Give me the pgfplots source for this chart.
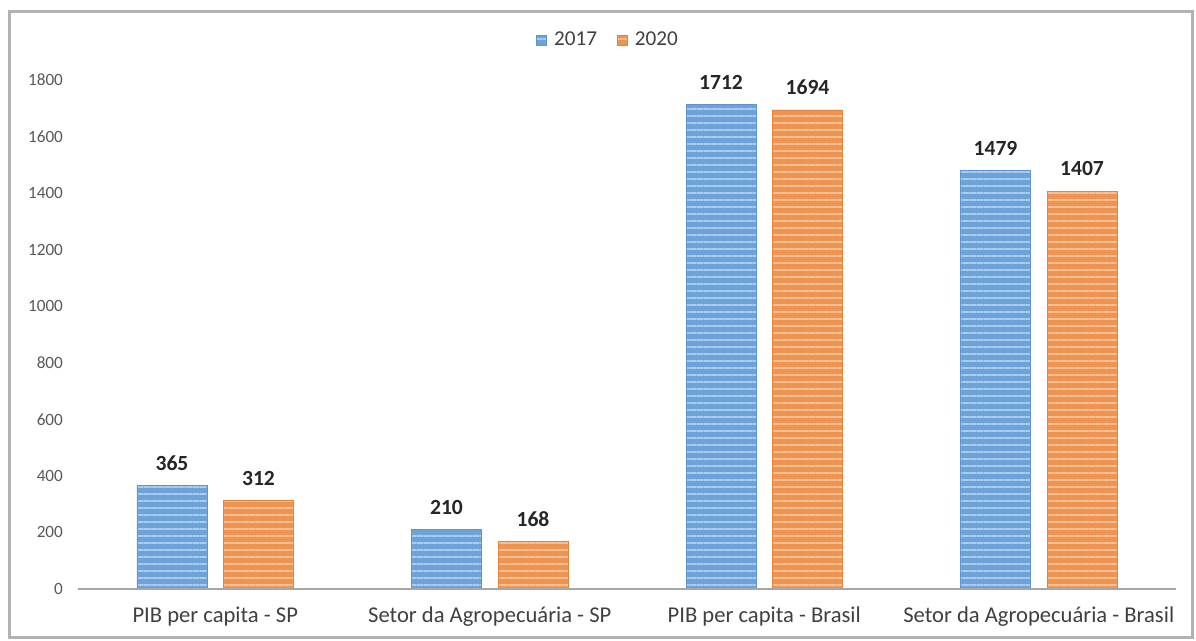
\documentclass[border=0pt]{standalone}
\usepackage{pgfplots}
\pgfplotsset{compat=1.18}
\usepackage{fontspec}
\setmainfont{Carlito}
\usetikzlibrary{patterns.meta}
\definecolor{bbase}{HTML}{6EA3D9}
\definecolor{blight}{HTML}{A8CBEE}
\definecolor{bedge}{HTML}{5F95CE}
\definecolor{obase}{HTML}{EE9450}
\definecolor{olight}{HTML}{F6C096}
\definecolor{oedge}{HTML}{E3843E}
\definecolor{txt}{HTML}{404040}
\definecolor{tick}{HTML}{595959}
\begin{document}
\begin{tikzpicture}
\useasboundingbox (-39pt,-26pt) rectangle (559pt,294.5pt);
\fill[white] (-39pt,-26pt) rectangle (559pt,294.5pt);
\begin{axis}[
  at={(0,0)}, anchor=south west,
  width=549pt, height=254.5pt, scale only axis,
  ybar=8.25pt, bar width=35pt,
  xmin=-0.5, xmax=3.5, ymin=0, ymax=1800,
  xtick={0,1,2,3},
  xticklabels={PIB per capita - SP, Setor da Agropecuária - SP, PIB per capita - Brasil, Setor da Agropecuária - Brasil},
  ytick={0,200,...,1800},
  axis line style={draw=none},
  x axis line style={draw=none},
  tick style={draw=none},
  yticklabel style={font=\fontsize{8.6}{10}\selectfont, text=tick, xshift=-4pt},
  xticklabel style={font=\fontsize{11.3}{13}\selectfont, text=txt, yshift=-1pt},
  /pgf/number format/.cd, 1000 sep={}, assume math mode=true, /pgfplots/.cd,
  nodes near coords,
  nodes near coords style={font=\bfseries\fontsize{10.8}{12}\selectfont, text=black!85, yshift=4pt},
  legend style={at={(0.4836,1.0780)}, anchor=center, draw=none, fill=none,
    legend columns=2, font=\fontsize{10.6}{12}\selectfont, text=txt,
    /tikz/every odd column/.append style={column sep=1.5pt},
    /tikz/every even column/.append style={column sep=8pt}},
  legend image code/.code={\fill[#1] (1pt,-2.5pt) rectangle (6pt,2.5pt);},
  clip=false,
]
\addplot[fill=bbase, draw=bedge, line width=0.4pt,
  postaction={pattern={Lines[angle=0,distance=3.5pt,line width=1pt]}, pattern color=blight}]
  coordinates {(0,365) (1,210) (2,1712) (3,1479)};
\addlegendentry{2017}
\addplot[fill=obase, draw=oedge, line width=0.4pt,
  postaction={pattern={Lines[angle=0,distance=3.5pt,line width=1pt]}, pattern color=olight}]
  coordinates {(0,312) (1,168) (2,1694) (3,1407)};
\addlegendentry{2020}
\draw[gray!70, line width=1pt] (axis cs:-0.5,0) -- (axis cs:3.5,0);
\end{axis}
\draw[gray!60, line width=1.5pt] (-34pt,-24.5pt) rectangle (557pt,288.5pt);
\end{tikzpicture}
\end{document}
